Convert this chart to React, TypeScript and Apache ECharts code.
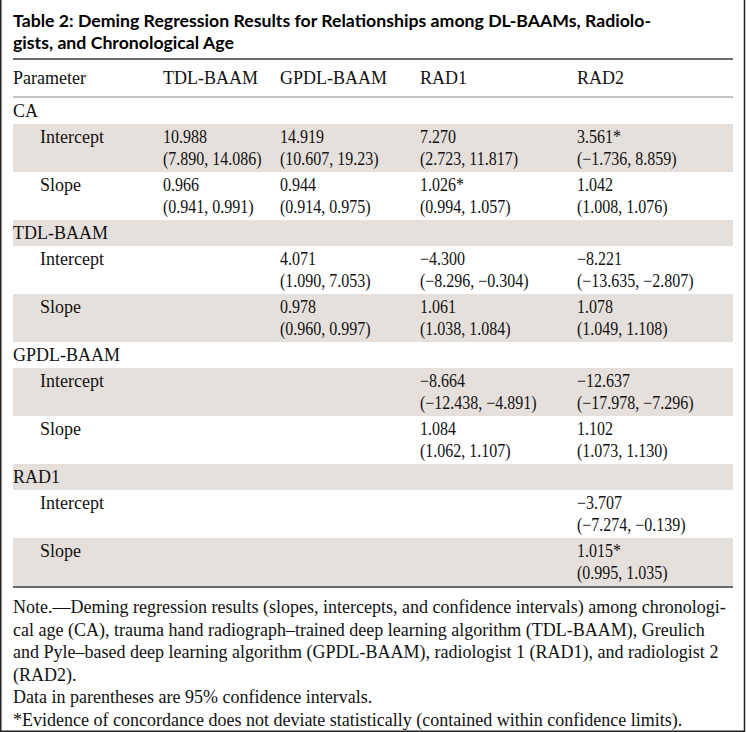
import React, { useEffect, useRef } from "react";
import * as echarts from "echarts";

const titleLines = [
  "Table 2: Deming Regression Results for Relationships among DL-BAAMs, Radiolo-",
  "gists, and Chronological Age",
];
const headers = ["Parameter", "TDL-BAAM", "GPDL-BAAM", "RAD1", "RAD2"];
const sections = ["CA", "TDL-BAAM", "GPDL-BAAM", "RAD1"];
const subRows = ["Intercept", "Slope"];
const interceptEst = [
  ["10.988", "14.919", "7.270", "3.561*"],
  ["", "4.071", "−4.300", "−8.221"],
  ["", "", "−8.664", "−12.637"],
  ["", "", "", "−3.707"],
];
const interceptCI = [
  ["(7.890, 14.086)", "(10.607, 19.23)", "(2.723, 11.817)", "(−1.736, 8.859)"],
  ["", "(1.090, 7.053)", "(−8.296, −0.304)", "(−13.635, −2.807)"],
  ["", "", "(−12.438, −4.891)", "(−17.978, −7.296)"],
  ["", "", "", "(−7.274, −0.139)"],
];
const slopeEst = [
  ["0.966", "0.944", "1.026*", "1.042"],
  ["", "0.978", "1.061", "1.078"],
  ["", "", "1.084", "1.102"],
  ["", "", "", "1.015*"],
];
const slopeCI = [
  ["(0.941, 0.991)", "(0.914, 0.975)", "(0.994, 1.057)", "(1.008, 1.076)"],
  ["", "(0.960, 0.997)", "(1.038, 1.084)", "(1.049, 1.108)"],
  ["", "", "(1.062, 1.107)", "(1.073, 1.130)"],
  ["", "", "", "(0.995, 1.035)"],
];
const noteLines = [
  "Note.—Deming regression results (slopes, intercepts, and confidence intervals) among chronologi-",
  "cal age (CA), trauma hand radiograph–trained deep learning algorithm (TDL-BAAM), Greulich",
  "and Pyle–based deep learning algorithm (GPDL-BAAM), radiologist 1 (RAD1), and radiologist 2",
  "(RAD2).",
  "Data in parentheses are 95% confidence intervals.",
  "*Evidence of concordance does not deviate statistically (contained within confidence limits).",
];

const W = 746;
const H = 732;
const LEFT = 13;
const RIGHT = 733;
const colX = [13, 163, 280, 420, 577];
const subX = 40;
const SERIF = "'Liberation Serif', 'DejaVu Serif', serif";
const SANS = "Lato, 'DejaVu Sans', sans-serif";
const FS = 18;
const LH = 22.5;
const SHADE = "#e6e0dd";
const NUM_SCALE = 0.89;

export default function App() {
  const ref = useRef<HTMLDivElement>(null);
  useEffect(() => {
    document.body.style.margin = "0";
    const chart = echarts.init(ref.current!, null, { renderer: "svg" });
    const els: any[] = [];
    const txt = (x: number, y: number, t: string, opts: any = {}, sx = 1) => {
      if (!t) return;
      els.push({
        type: "text",
        x,
        y,
        scaleX: sx,
        style: {
          text: t,
          fill: "#111",
          font: `${FS}px ${SERIF}`,
          verticalAlign: "middle",
          align: "left",
          ...opts,
        },
      });
    };
    const rect = (y: number, h: number, fill: string) =>
      els.push({ type: "rect", shape: { x: LEFT, y, width: RIGHT - LEFT, height: h }, style: { fill } });
    const line = (y: number, stroke: string, w: number) =>
      els.push({ type: "line", shape: { x1: LEFT, y1: y, x2: RIGHT, y2: y }, style: { stroke, lineWidth: w } });

    // title
    titleLines.forEach((t, i) =>
      txt(LEFT, 20 + i * 22.5, t, { font: `bold 17.7px ${SANS}`, fill: "#000" })
    );
    line(59, "#3a3a3a", 1.5);
    headers.forEach((h, i) => txt(colX[i], 78, h));
    line(97, "#c4c4c4", 2);

    const SINGLE = 26;
    const DOUBLE = 48;
    let y = 98;
    let shade = false;
    sections.forEach((sec, si) => {
      if (shade) rect(y, SINGLE, SHADE);
      txt(LEFT, y + SINGLE / 2, sec);
      y += SINGLE;
      shade = !shade;
      subRows.forEach((sr, ri) => {
        const est = ri === 0 ? interceptEst[si] : slopeEst[si];
        const ci = ri === 0 ? interceptCI[si] : slopeCI[si];
        if (shade) rect(y, DOUBLE, SHADE);
        const y1 = y + DOUBLE / 2 - LH / 2;
        const y2 = y + DOUBLE / 2 + LH / 2;
        txt(subX, y1, sr);
        est.forEach((v, ci2) => txt(colX[ci2 + 1], y1, v, {}, NUM_SCALE));
        ci.forEach((v, ci2) => txt(colX[ci2 + 1], y2, v, {}, NUM_SCALE));
        y += DOUBLE;
        shade = !shade;
      });
    });
    line(y + 1, "#3a3a3a", 1.5);

    const noteTop = y + 21;
    noteLines.forEach((t, i) => txt(LEFT, noteTop + i * LH, t));

    // outer frame
    els.push({
      type: "polyline",
      shape: { points: [[0.75, 0], [0.75, H - 0.75], [W - 1.5, H - 0.75], [W - 1.5, 0]] },
      style: { stroke: "#222", lineWidth: 1.5, fill: null },
    });

    chart.setOption({ animation: false, graphic: { elements: els } });
    return () => chart.dispose();
  }, []);
  return <div ref={ref} style={{ width: W, height: H, background: "#fff" }} />;
}
